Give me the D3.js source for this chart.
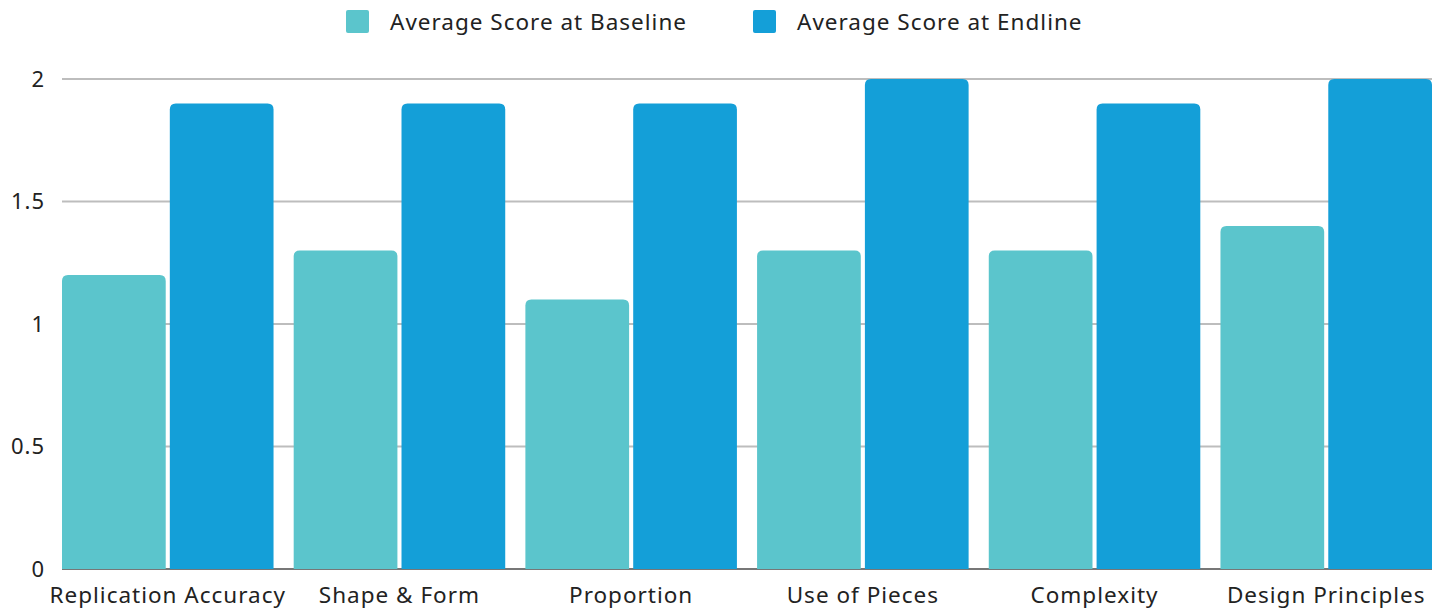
<!DOCTYPE html>
<html lang="en">
<head>
<meta charset="UTF-8">
<title>Average Scores</title>
<script src="https://d3js.org/d3.v7.min.js"></script>
<style>
body { margin: 0; background: #fff; }
svg { display: block; font-family: "Noto Sans", "Open Sans", sans-serif; }
</style>
</head>
<body>
<svg id="chart" width="1442" height="609"></svg>
<script>
// chart data
let categories = ['Replication Accuracy', 'Shape & Form', 'Proportion', 'Use of Pieces', 'Complexity', 'Design Principles'];
let seriesNames = ['Average Score at Baseline', 'Average Score at Endline'];
let baseline = [1.2, 1.3, 1.1, 1.3, 1.3, 1.4];
let endline = [1.9, 1.9, 1.9, 2, 1.9, 2];
let yTicks = [0, 0.5, 1, 1.5, 2];
let colors = ['#5bc5cc', '#149fd8'];

let svg = d3.select('#chart');
let margin = { left: 62, right: 10, top: 79, bottom: 40 };
let width = 1442, height = 609;

let x = d3.scaleBand()
    .domain(categories)
    .range([margin.left, width - margin.right])
    .paddingInner(0.087)
    .paddingOuter(0);

let xSub = d3.scaleBand()
    .domain([0, 1])
    .range([0, x.bandwidth()])
    .paddingInner(0.038);

let y = d3.scaleLinear()
    .domain([0, 2])
    .range([height - margin.bottom, margin.top]);

// gridlines
svg.append('g')
    .selectAll('line')
    .data(yTicks)
    .enter()
    .append('line')
    .attr('x1', margin.left)
    .attr('x2', width - margin.right)
    .attr('y1', d => y(d))
    .attr('y2', d => y(d))
    .attr('stroke', d => d === 0 ? '#777' : '#bdbdbd')
    .attr('stroke-width', 2);

// y labels
svg.append('g')
    .selectAll('text')
    .data(yTicks)
    .enter()
    .append('text')
    .attr('x', 45)
    .attr('y', d => y(d))
    .attr('dy', '0.35em')
    .attr('text-anchor', 'end')
    .attr('font-size', 22)
    .attr('letter-spacing', 1)
    .attr('fill', '#222')
    .text(d => d);

// bar with rounded top corners
let barPath = (x0, w, yTop, yBottom, r) => {
    r = Math.min(r, yBottom - yTop);
    return 'M' + x0 + ',' + yBottom +
        'V' + (yTop + r) +
        'Q' + x0 + ',' + yTop + ' ' + (x0 + r) + ',' + yTop +
        'H' + (x0 + w - r) +
        'Q' + (x0 + w) + ',' + yTop + ' ' + (x0 + w) + ',' + (yTop + r) +
        'V' + yBottom + 'Z';
};

let rows = categories.map((c, i) => ({ cat: c, vals: [baseline[i], endline[i]] }));

let groups = svg.append('g')
    .selectAll('g')
    .data(rows)
    .enter()
    .append('g')
    .attr('transform', d => 'translate(' + x(d.cat) + ',0)');

groups.selectAll('path')
    .data(d => d.vals.map((v, k) => ({ k: k, v: v })))
    .enter()
    .append('path')
    .attr('fill', d => colors[d.k])
    .attr('d', d => barPath(xSub(d.k), xSub.bandwidth(), y(d.v), y(0), 6));

// x labels
svg.append('g')
    .selectAll('text')
    .data(categories)
    .enter()
    .append('text')
    .attr('x', d => x(d) + x.bandwidth() / 2)
    .attr('y', 595)
    .attr('dy', '0.35em')
    .attr('text-anchor', 'middle')
    .attr('font-size', 22.5)
    .attr('letter-spacing', 1)
    .attr('fill', '#222')
    .text(d => d);

// legend
let legendX = [346, 753];
let legend = svg.append('g')
    .selectAll('g')
    .data(seriesNames)
    .enter()
    .append('g')
    .attr('transform', (d, i) => 'translate(' + legendX[i] + ',10)');

legend.append('rect')
    .attr('width', 23)
    .attr('height', 23)
    .attr('rx', 2)
    .attr('fill', (d, i) => colors[i]);

legend.append('text')
    .attr('x', 44)
    .attr('y', 12)
    .attr('dy', '0.35em')
    .attr('font-size', 22.5)
    .attr('letter-spacing', 1)
    .attr('fill', '#222')
    .text(d => d);
</script>
</body>
</html>
